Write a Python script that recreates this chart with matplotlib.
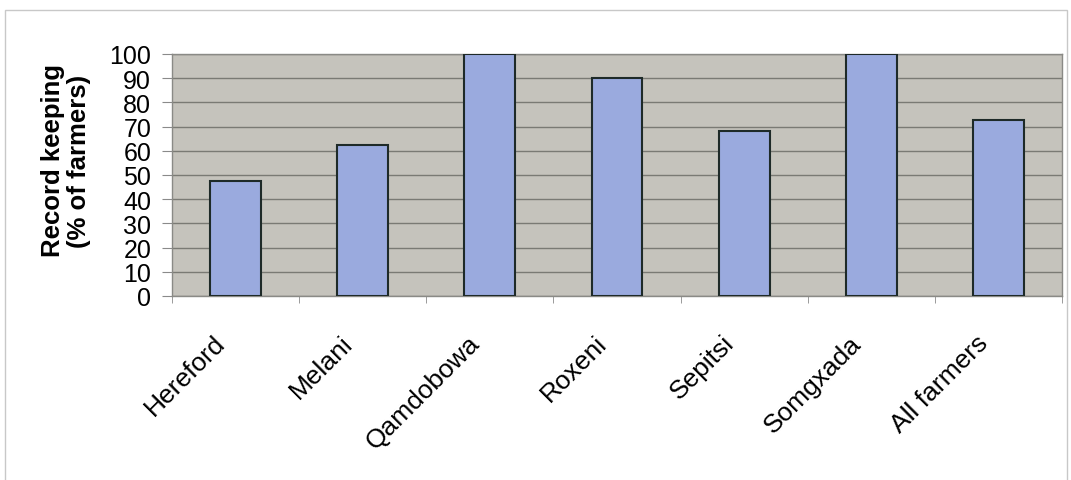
import matplotlib
matplotlib.use("Agg")
import matplotlib.pyplot as plt
from matplotlib.patches import Rectangle
import matplotlib.transforms as mtransforms
import numpy as np

categories = ["Hereford", "Melani", "Qamdobowa", "Roxeni", "Sepitsi", "Somgxada", "All farmers"]
record_keeping = [47.7, 62.5, 100, 90, 68.3, 100, 72.7]
y_ticks = list(range(0, 101, 10))

plt.rcParams["font.family"] = ["Liberation Sans", "DejaVu Sans"]

fig = plt.figure(figsize=(10.71, 4.81), dpi=100)
fig.patch.set_facecolor("white")

# thin outer frame of the chart area
fig.add_artist(Rectangle((5 / 1071, -0.05), 1062 / 1071, 1.05 - 11 / 481,
                         transform=fig.transFigure, fill=False,
                         edgecolor="#c8c8c8", linewidth=1.0))

ax = fig.add_axes([172 / 1071, 1 - 297 / 481, 890 / 1071, 242 / 481])
ax.set_facecolor("#c5c3bc")

x = np.arange(len(categories))
ax.bar(x, record_keeping, width=0.4, color="#9aaade", edgecolor="#1e2a28",
       linewidth=1.5, zorder=3)

ax.set_xlim(-0.5, len(categories) - 0.5)
ax.set_ylim(0, 100)
ax.set_yticks(y_ticks)
ax.set_yticklabels([str(v) for v in y_ticks], fontsize=18)
ax.yaxis.grid(True, color="#7a7a74", linewidth=1.0, zorder=1)
ax.set_axisbelow(True)

# category labels centred under bars, ticks at category boundaries
ax.set_xticks(x)
ax.set_xticklabels(categories, rotation=45, ha="right", va="center",
                   rotation_mode="anchor", fontsize=19)
ax.tick_params(axis="x", length=0, pad=31)
shift = mtransforms.ScaledTranslation(-14 / 100, 0, fig.dpi_scale_trans)
for lbl in ax.get_xticklabels():
    lbl.set_transform(lbl.get_transform() + shift)
ax.set_xticks(np.arange(-0.5, len(categories)), minor=True)
ax.tick_params(axis="x", which="minor", length=5, color="#8a8a8a", direction="out")
ax.tick_params(axis="y", length=7, color="#8a8a8a", direction="out", pad=8)

for side in ["left", "bottom", "top", "right"]:
    ax.spines[side].set_color("#8a8a86")
    ax.spines[side].set_linewidth(1.0)

fig.text(66 / 1071, 1 - 161 / 481, "Record keeping\n(% of farmers)",
         rotation=90, ha="center", va="center", multialignment="center",
         fontsize=18.5, fontweight="bold", linespacing=1.12)

fig.savefig("out.png", dpi=100, facecolor="white")
